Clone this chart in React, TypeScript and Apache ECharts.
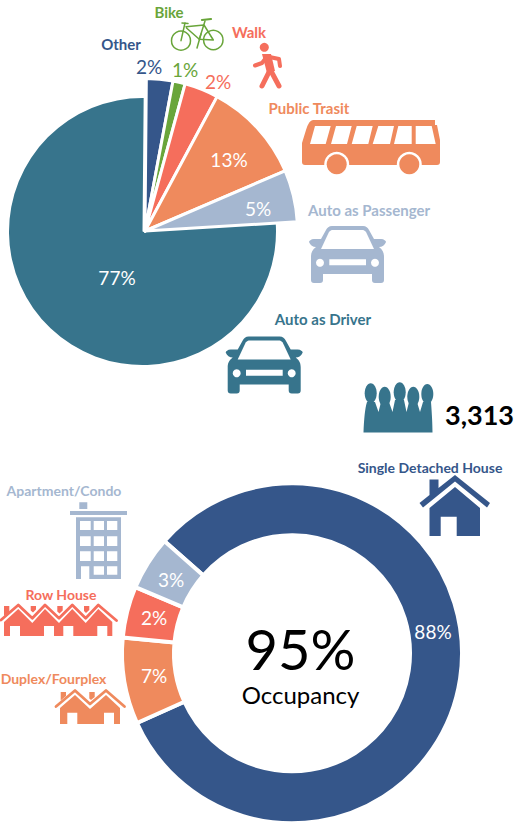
import React, { useEffect, useRef } from "react";
import * as echarts from "echarts";

// Commute mode pie
const modeNames = ["Other", "Bike", "Walk", "Public Trasit", "Auto as Passenger", "Auto as Driver"];
const modeLabels = ["2%", "1%", "2%", "13%", "5%", "77%"];
const modeDrawnShares = [2.8, 1.3, 3.6, 10.7, 5.5, 76.1];
const modeColors = ["#35568a", "#69a53a", "#f56e5c", "#ef8a5d", "#a5b7d0", "#37748c"];

// Housing donut
const houseNames = ["Single Detached House", "Duplex/Fourplex", "Row House", "Apartment/Condo"];
const houseLabels = ["88%", "7%", "2%", "3%"];
const houseDrawnShares = [81.8, 8.2, 4.9, 5.1];
const houseColors = ["#35568a", "#ef8a5d", "#f56e5c", "#a5b7d0"];

const populationLabel = "3,313";
const occupancyLabel = "95%";
const occupancyCaption = "Occupancy";

const modeLabelPos = [[149, 66], [185, 69.5], [218, 81], [229, 159], [258, 208], [117, 277]];
const houseLabelPos = [[433, 631], [154, 675], [154, 617], [171, 579]];

const FONT = "Lato, 'Open Sans', sans-serif";

echarts.graphic.registerShape("carBody", echarts.graphic.extendPath(
  "M23 0 L54 0 C57 0 59 2 60 4 L65 13 L72 13 C75 13 77 15 77 16 C76 19 73 21 70 21 C74 24 75 27 75 31 L75 54 C75 56 74 57 72 57 L66 57 C64 57 63 56 63 54 L63 48 L14 48 L14 54 C14 56 13 57 11 57 L5 57 C3 57 2 56 2 54 L2 31 C2 27 3 24 7 21 C4 21 1 19 0 16 C0 15 2 13 5 13 L12 13 L17 4 C18 2 20 0 23 0Z", {}));
echarts.graphic.registerShape("carWindow", echarts.graphic.extendPath(
  "M23 4 L54 4 C55 4 56 5 57 6 L65 23 L12 23 L20 6 C21 5 22 4 23 4Z", {}));
echarts.graphic.registerShape("busBody", echarts.graphic.extendPath(
  "M313 120 L435 120 L435 125 L437 125 L440 140 L440 162 Q440 165 437 165 L305 165 Q302 165 302 162 L302 143 L306 130 Q309 120 313 120Z", {}));
echarts.graphic.registerShape("busWindows", echarts.graphic.extendPath(
  "M315 126 L330.7 126 L325.7 144 L310 144Z M336 126 L351.7 126 L347 144 L331 144Z M356.7 126 L372.7 126 L368.3 144 L351.7 144Z M378.3 126 L394 126 L390 144 L372.7 144Z M398.3 126 L411.7 126 L411.7 144 L394 144Z M415.7 126 L431.7 126 L435.7 144 L415.7 144Z", {}));
echarts.graphic.registerShape("people", echarts.graphic.extendPath(
  "M363.5 432.5 C364 420 365 408 367 402 L375 402 L378.5 412 L381 402 L389 402 L392.5 412 L395 400 L404 400 L406.5 412 L409 402 L417 402 L420 412 L423 402 L431 402 C432 415 432.5 425 432.5 432.5Z", {}));
echarts.graphic.registerShape("house", echarts.graphic.extendPath(
  "M455 475 L490 503 L487 507.5 L455 481.5 L423 507.5 L419.5 503 L429.5 495 L429.5 479.5 L438.5 479.5 L438.5 488Z M455 487 L480 508 L480 536 L456.7 536 L456.7 516.7 L440.7 516.7 L440.7 536 L429.5 536 L429.5 508Z", {}));
echarts.graphic.registerShape("rowBody", echarts.graphic.extendPath(
  "M4 622 L18.3 609 L32.3 623 L45 609 L59 623 L72.3 609 L85.7 623 L98.3 609 L112.3 622 L112.3 636 L107.3 636 L107.3 626 L97.3 626 L97.3 636 L73.3 636 L73.3 626 L63.3 626 L63.3 636 L54 636 L54 626 L44 626 L44 636 L20 636 L20 626 L10 626 L10 636 L4 636Z M4 606 L9.3 606 L9.3 612 L4 616Z M30.7 606 L36 606 L36 609.5 L33 612.5 L30.7 610.5Z M57.3 606 L62.7 606 L62.7 610.5 L59.5 613.5 L57.3 611.5Z M84 606 L89.3 606 L89.3 610 L86 613 L84 611Z", {}));
echarts.graphic.registerShape("duplexBody", echarts.graphic.extendPath(
  "M60 708 L75 695 L90 709 L106 695 L120 708 L120 724 L114 724 L114 712.7 L104 712.7 L104 724 L77.3 724 L77.3 712.7 L67.3 712.7 L67.3 724 L60 724Z M60.7 692 L66 692 L66 696 L60.7 700.5Z M89.3 692 L94.7 692 L94.7 697 L91 700 L89.3 698.5Z", {}));
echarts.graphic.registerShape("aptBody", echarts.graphic.extendPath(
  "M79.3 502.3 L87.3 502.3 L87.3 509 L79.3 509Z M70 511 L127 511 L127 515 L70 515Z M76 517.3 L121 517.3 L121 579 L89.3 579 L89.3 566.3 L81 566.3 L81 579 L76 579Z", {}));
echarts.graphic.registerShape("aptWindows", echarts.graphic.extendPath(
  "M80 521 H90.7 V530 H80Z M93.7 521 H104 V530 H93.7Z M107 521 H117.3 V530 H107Z M80 536.3 H90.7 V546 H80Z M93.7 536.3 H104 V546 H93.7Z M107 536.3 H117.3 V546 H107Z M80 551.3 H90.7 V561 H80Z M93.7 551.3 H104 V561 H93.7Z M107 551.3 H117.3 V561 H107Z M93.7 566.3 H104 V574.7 H93.7Z M107 566.3 H117.3 V574.7 H107Z", {}));

const txt = (text: string, x: number, y: number, fill: string, font: string) => ({
  type: "text",
  style: { text, x, y, fill, font, textAlign: "center", textVerticalAlign: "middle" },
});
const modeNameFont = `700 15px ${FONT}`;
const houseNameFont = `700 14px ${FONT}`;

const car = (x: number, y: number, color: string) => ({
  type: "group",
  x,
  y,
  children: [
    { type: "carBody", style: { fill: color } },
    { type: "carWindow", style: { fill: "#fff" } },
    { type: "circle", shape: { cx: 11, cy: 36.7, r: 4 }, style: { fill: "#fff" } },
    { type: "circle", shape: { cx: 66, cy: 36.7, r: 4 }, style: { fill: "#fff" } },
    { type: "rect", shape: { x: 20.3, y: 33.3, width: 36.7, height: 6 }, style: { fill: "#fff" } },
  ],
});
const limb = (points: number[][], stroke: string, lineWidth: number) => ({
  type: "polyline",
  shape: { points },
  style: { stroke, lineWidth, fill: "none", lineCap: "round", lineJoin: "round" },
});

const graphics = [
  // Name labels
  ...modeNames.map((n, i) => {
    const pos = [[121, 44], [169, 12], [249, 32], [309, 108], [369, 210], [323, 319]][i];
    return txt(n, pos[0], pos[1], modeColors[i], modeNameFont);
  }),
  ...houseNames.map((n, i) => {
    const pos = [[430, 467], [53.5, 678], [61, 594], [64, 490]][i];
    return txt(n, pos[0], pos[1], houseColors[i], houseNameFont);
  }),
  txt(populationLabel, 479.5, 414, "#000", `700 27px ${FONT}`),
  txt(occupancyLabel, 300.5, 648, "#000", `400 56px ${FONT}`),
  txt(occupancyCaption, 300.5, 694, "#000", `400 24px ${FONT}`),

  // Bike
  { type: "circle", shape: { cx: 181, cy: 40.7, r: 9.5 }, style: { fill: "none", stroke: modeColors[1], lineWidth: 1.5 } },
  { type: "circle", shape: { cx: 213.3, cy: 40, r: 9.7 }, style: { fill: "none", stroke: modeColors[1], lineWidth: 1.5 } },
  limb([[181, 40.7], [185, 23]], modeColors[1], 1.5),
  limb([[182, 23], [188, 23.5]], modeColors[1], 1.5),
  limb([[186, 26.7], [204, 25], [213.3, 40], [199.3, 39.3], [186.5, 28]], modeColors[1], 1.5),
  limb([[205, 21], [199.3, 39.3]], modeColors[1], 1.5),
  limb([[202, 20], [211, 19]], modeColors[1], 2.2),
  limb([[197, 48], [201, 34]], modeColors[1], 1.5),

  // Walker
  { type: "circle", shape: { cx: 264.3, cy: 47.3, r: 4.5 }, style: { fill: modeColors[2] } },
  { type: "polygon", shape: { points: [[262, 54], [271, 54], [275, 71], [267, 73]] }, style: { fill: modeColors[2] } },
  limb([[255, 65.5], [262, 63], [267, 56.5], [279, 59], [280, 66]], modeColors[2], 4),
  limb([[270, 70], [262, 86]], modeColors[2], 5),
  limb([[271, 71], [279, 86]], modeColors[2], 5),

  // Bus
  { type: "busBody", style: { fill: modeColors[3] } },
  { type: "busWindows", style: { fill: "#fff" } },
  { type: "circle", shape: { cx: 336.7, cy: 164.3, r: 12.5 }, style: { fill: "#fff" } },
  { type: "circle", shape: { cx: 336.7, cy: 164.3, r: 10 }, style: { fill: modeColors[3] } },
  { type: "circle", shape: { cx: 409.3, cy: 164.3, r: 12.5 }, style: { fill: "#fff" } },
  { type: "circle", shape: { cx: 409.3, cy: 164.3, r: 10 }, style: { fill: modeColors[3] } },

  car(309, 226, modeColors[4]),
  car(225.7, 336.5, modeColors[5]),

  // People
  { type: "people", style: { fill: modeColors[5] } },
  ...[[370.7, 393.3], [384.7, 396.7], [399.7, 392.3], [413.3, 396.7], [427.3, 394]].map(([cx, cy]) => ({
    type: "ellipse",
    shape: { cx, cy, rx: 6, ry: 10 },
    style: { fill: modeColors[5] },
  })),

  // Housing icons
  { type: "house", style: { fill: houseColors[0] } },
  { type: "aptBody", style: { fill: houseColors[3] } },
  { type: "aptWindows", style: { fill: "#fff" } },
  limb([[1, 620], [18.3, 605], [32.3, 618.3], [45, 605], [59, 618.3], [72.3, 605], [85.7, 618.3], [98.3, 605], [116.5, 620.5]], houseColors[2], 2.8),
  { type: "rowBody", style: { fill: houseColors[2] } },
  limb([[56, 706.5], [75, 690.5], [90, 704], [106, 690.5], [124.5, 706.5]], houseColors[1], 2.8),
  { type: "duplexBody", style: { fill: houseColors[1] } },
];

const hidden = { color: "transparent", borderWidth: 0 };
const percentLabel = { show: true, position: "inside", fontFamily: FONT, fontSize: 19, fontWeight: 400 };

const option = {
  animation: false,
  backgroundColor: "#fff",
  graphic: { elements: graphics },
  series: [
    {
      type: "pie",
      name: "Auto as Driver",
      center: [142.5, 231.5],
      radius: [0, 133.5],
      startAngle: 89.5,
      silent: true,
      avoidLabelOverlap: false,
      labelLine: { show: false },
      data: [
        {
          value: modeDrawnShares.slice(0, 5).reduce((a, b) => a + b, 0),
          itemStyle: hidden,
          label: { show: false },
        },
        {
          value: modeDrawnShares[5],
          name: modeNames[5],
          itemStyle: { color: modeColors[5] },
          label: { ...percentLabel, color: "#fff", formatter: modeLabels[5] },
        },
      ],
      labelLayout: (p: any) =>
        p.dataIndex === 1
          ? { x: modeLabelPos[5][0], y: modeLabelPos[5][1], align: "center", verticalAlign: "middle" }
          : {},
    },
    {
      type: "pie",
      name: "Other modes",
      center: [145, 231],
      radius: [0, 152.5],
      startAngle: 89.5,
      silent: true,
      avoidLabelOverlap: false,
      labelLine: { show: false },
      data: [
        ...modeNames.slice(0, 5).map((name, i) => ({
          name,
          value: modeDrawnShares[i],
          itemStyle: { color: modeColors[i], borderColor: "#fff", borderWidth: 3 },
          label: { ...percentLabel, color: i < 3 ? modeColors[i] : "#fff", formatter: modeLabels[i] },
        })),
        { value: modeDrawnShares[5], itemStyle: hidden, label: { show: false } },
      ],
      labelLayout: (p: any) =>
        p.dataIndex < 5
          ? {
              x: modeLabelPos[p.dataIndex][0],
              y: modeLabelPos[p.dataIndex][1],
              align: "center",
              verticalAlign: "middle",
            }
          : {},
    },
    {
      type: "pie",
      name: "Housing",
      center: [292, 653.3],
      radius: [118, 170],
      startAngle: 138.7,
      silent: true,
      avoidLabelOverlap: false,
      labelLine: { show: false },
      data: houseNames.map((name, i) => ({
        name,
        value: houseDrawnShares[i],
        itemStyle: { color: houseColors[i], borderColor: "#fff", borderWidth: 4 },
        label: { ...percentLabel, color: "#fff", formatter: houseLabels[i] },
      })),
      labelLayout: (p: any) => ({
        x: houseLabelPos[p.dataIndex][0],
        y: houseLabelPos[p.dataIndex][1],
        align: "center",
        verticalAlign: "middle",
      }),
    },
  ],
};

export default function App() {
  const ref = useRef<HTMLDivElement>(null);
  useEffect(() => {
    const chart = echarts.init(ref.current!, undefined, { renderer: "svg" });
    chart.setOption(option as any);
    return () => chart.dispose();
  }, []);
  return <div ref={ref} style={{ position: "absolute", left: 0, top: 0, width: 519, height: 823 }} />;
}
